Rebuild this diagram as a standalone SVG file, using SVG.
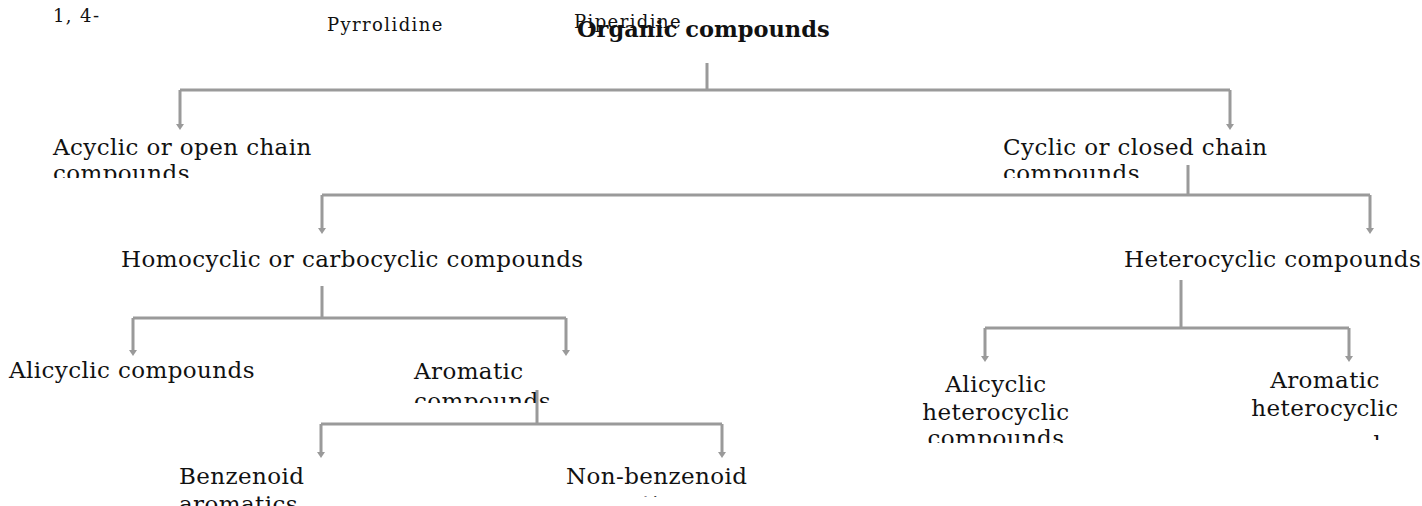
<svg xmlns="http://www.w3.org/2000/svg" width="1422" height="506" viewBox="0 0 1422 506">
<style>
.t{font-family:"DejaVu Serif","Liberation Serif",serif;font-size:23px;letter-spacing:0.4px;fill:#111}
.m{text-anchor:middle}
.s{font-family:"DejaVu Serif","Liberation Serif",serif;font-size:18px;letter-spacing:1.4px;fill:#111}
.b{font-family:"DejaVu Serif","Liberation Serif",serif;font-size:22.5px;font-weight:bold;fill:#111}
.c{fill:none;stroke:#9a9a9a;stroke-width:3}
</style>
<defs>
<clipPath id="k1"><rect x="40" y="130" width="300" height="48"/></clipPath>
<clipPath id="k2"><rect x="990" y="130" width="300" height="48"/></clipPath>
<clipPath id="k3"><rect x="400" y="355" width="160" height="48"/></clipPath>
<clipPath id="k4"><rect x="160" y="460" width="200" height="46"/></clipPath>
<clipPath id="k5"><rect x="540" y="460" width="240" height="37"/></clipPath>
<clipPath id="k6"><rect x="900" y="365" width="200" height="78"/></clipPath>
<clipPath id="k7"><rect x="1240" y="362" width="182" height="78"/></clipPath>
</defs>
<g id="connectors">
<path class="c" d="M707 63V90M180 90H1230"/>
<path class="c" d="M180 90V126M1230 90V126"/>
<path class="c" d="M1188 165V195M322 195H1370M322 195V230M1370 195V230"/>
<path class="c" d="M322 286V318M133 318H566M133 318V352M566 318V352"/>
<path class="c" d="M537 390V424M321 424H722M321 424V454M722 424V454"/>
<path class="c" d="M1181 280V328M985 328H1349M985 328V358M1349 328V358"/>
<g fill="#9a9a9a">
<path d="M176 124L180 130L184 124Z"/><path d="M1226 124L1230 130L1234 124Z"/>
<path d="M318 228L322 234L326 228Z"/><path d="M1366 228L1370 234L1374 228Z"/>
<path d="M129 350L133 356L137 350Z"/><path d="M562 350L566 356L570 350Z"/>
<path d="M317 452L321 458L325 452Z"/><path d="M718 452L722 458L726 452Z"/>
<path d="M981 356L985 362L989 356Z"/><path d="M1345 356L1349 362L1353 356Z"/>
</g>
</g>
<g id="small-labels">
<text class="s" x="53" y="22">1, 4-</text>
<text class="s" x="327" y="31">Pyrrolidine</text>
<text class="s" x="574" y="28">Piperidine</text>
</g>
<g id="n-organic"><text class="b" x="577" y="37">Organic compounds</text></g>
<g id="n-acyclic" clip-path="url(#k1)"><text class="t" x="53" y="155">Acyclic or open chain</text><text class="t" x="53" y="181">compounds</text></g>
<g id="n-cyclic" clip-path="url(#k2)"><text class="t" x="1003" y="155">Cyclic or closed chain</text><text class="t" x="1003" y="181">compounds</text></g>
<g id="n-homocyclic"><text class="t" x="121" y="267">Homocyclic or carbocyclic compounds</text></g>
<g id="n-heterocyclic"><text class="t" x="1124" y="267">Heterocyclic compounds</text></g>
<g id="n-alicyclic"><text class="t" x="9" y="378">Alicyclic compounds</text></g>
<g id="n-aromatic" clip-path="url(#k3)"><text class="t" x="414" y="379">Aromatic</text><text class="t" x="414" y="409">compounds</text></g>
<g id="n-benzenoid" clip-path="url(#k4)"><text class="t" x="179" y="484">Benzenoid</text><text class="t" x="179" y="512">aromatics</text></g>
<g id="n-nonbenzenoid" clip-path="url(#k5)"><text class="t" x="566" y="484">Non-benzenoid</text><text class="t" x="566" y="512">aromatics</text></g>
<g id="n-alihet" clip-path="url(#k6)"><text class="t m" x="996" y="392">Alicyclic</text><text class="t m" x="996" y="420">heterocyclic</text><text class="t m" x="996" y="446">compounds</text></g>
<g id="n-arohet" clip-path="url(#k7)"><text class="t m" x="1325" y="388">Aromatic</text><text class="t m" x="1325" y="416">heterocyclic</text><text class="t m" x="1325" y="452">compounds</text></g>
</svg>
